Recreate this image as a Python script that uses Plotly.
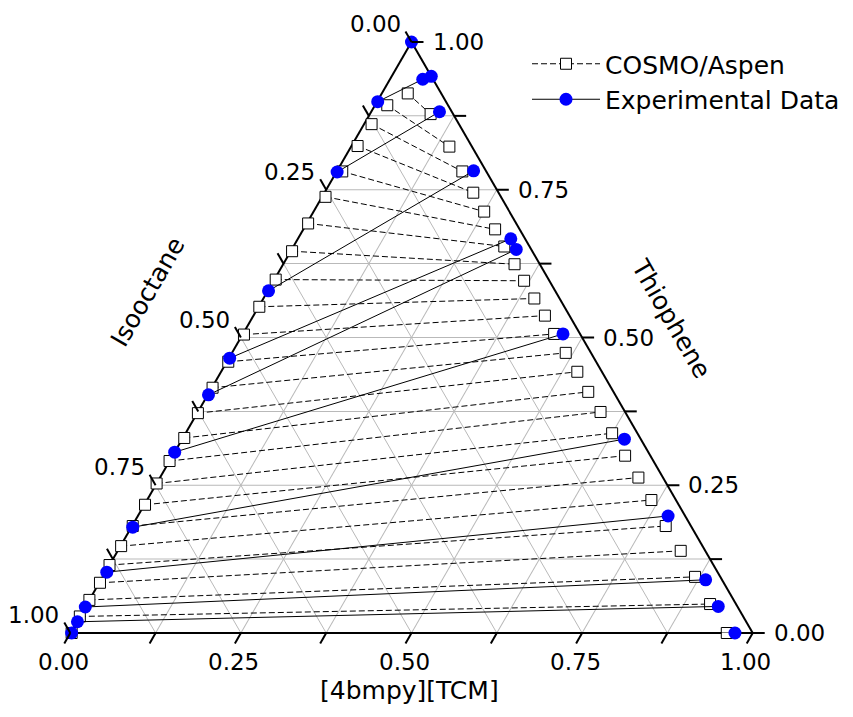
import math
import plotly.graph_objects as go

# ---------------- data (mole fractions) ----------------
# Experimental tie lines: raffinate (isooctane-rich) end
exp_raff_thiophene = [1.000, 0.899, 0.780, 0.579, 0.465, 0.403, 0.306, 0.179, 0.103, 0.044, 0.019, 0.000]
exp_raff_isooctane = [0.000, 0.100, 0.219, 0.420, 0.534, 0.596, 0.694, 0.819, 0.895, 0.956, 0.980, 0.998]
exp_raff_il        = [0.000, 0.001, 0.001, 0.001, 0.001, 0.001, 0.000, 0.002, 0.002, 0.000, 0.001, 0.002]
# Experimental tie lines: extract (IL-rich) end
exp_ext_thiophene = [0.942, 0.937, 0.882, 0.782, 0.667, 0.649, 0.506, 0.328, 0.198, 0.090, 0.045, 0.000]
exp_ext_isooctane = [0.000, 0.015, 0.018, 0.018, 0.021, 0.022, 0.025, 0.024, 0.025, 0.024, 0.028, 0.026]
exp_ext_il        = [0.058, 0.048, 0.100, 0.200, 0.312, 0.329, 0.469, 0.648, 0.777, 0.886, 0.927, 0.974]

# COSMO/Aspen tie lines: raffinate end
cosmo_raff_thiophene = [0.913, 0.893, 0.861, 0.824, 0.781, 0.738, 0.693, 0.646, 0.598, 0.552, 0.505, 0.459, 0.415,
                        0.372, 0.330, 0.291, 0.253, 0.217, 0.181, 0.147, 0.115, 0.085, 0.056, 0.028, 0.000]
cosmo_raff_isooctane = [0.049, 0.089, 0.128, 0.167, 0.211, 0.257, 0.305, 0.352, 0.400, 0.447, 0.493, 0.539, 0.584,
                        0.627, 0.668, 0.709, 0.747, 0.782, 0.818, 0.852, 0.885, 0.914, 0.944, 0.972, 0.998]
cosmo_raff_il        = [0.038, 0.018, 0.011, 0.009, 0.008, 0.005, 0.002, 0.002, 0.002, 0.001, 0.002, 0.002, 0.001,
                        0.001, 0.002, 0.000, 0.000, 0.001, 0.001, 0.001, 0.000, 0.001, 0.000, 0.000, 0.002]
# COSMO/Aspen tie lines: extract end
cosmo_ext_thiophene = [0.878, 0.823, 0.781, 0.745, 0.713, 0.683, 0.654, 0.624, 0.596, 0.566, 0.537, 0.506, 0.474,
                       0.442, 0.408, 0.374, 0.338, 0.300, 0.263, 0.225, 0.181, 0.139, 0.095, 0.049, 0.000]
cosmo_ext_isooctane = [0.033, 0.033, 0.035, 0.037, 0.037, 0.036, 0.037, 0.037, 0.037, 0.037, 0.036, 0.038, 0.037,
                       0.036, 0.037, 0.036, 0.037, 0.037, 0.036, 0.036, 0.037, 0.036, 0.037, 0.038, 0.038]
cosmo_ext_il        = [0.089, 0.144, 0.184, 0.218, 0.250, 0.281, 0.309, 0.339, 0.367, 0.397, 0.427, 0.456, 0.489,
                       0.522, 0.555, 0.590, 0.625, 0.663, 0.701, 0.739, 0.782, 0.825, 0.868, 0.913, 0.962]

grid_vals = [0.0, 0.125, 0.25, 0.375, 0.5, 0.625, 0.75, 0.875, 1.0]
label_vals = [0.0, 0.25, 0.5, 0.75, 1.0]
label_text = ["0.00", "0.25", "0.50", "0.75", "1.00"]

series_names = ["COSMO/Aspen", "Experimental Data"]
title_left = "Isooctane"
title_right = "Thiophene"
title_bottom = "[4bmpy][TCM]"

# ---------------- figure geometry (page has an 8px body margin) ----------------
W, H = 845, 709
ML, MR, MT, MB = 62, 100, 34, 84
PW, PH = W - ML - MR, H - MT - MB
W_OVER_H = 2 / math.sqrt(3)
if PW > W_OVER_H * PH:
    TH = PH
    TW = TH * W_OVER_H
else:
    TW = PW
    TH = TW / W_OVER_H
X0 = ML + PW / 2 - TW / 2
Y0 = MT + PH / 2 - TH / 2
VA = (X0 + TW / 2, Y0)        # top vertex (thiophene)
VB = (X0, Y0 + TH)            # bottom-left (isooctane)
VC = (X0 + TW, Y0 + TH)       # bottom-right (IL)


def px(X):
    return (X - ML) / PW


def py(Y):
    return 1 - (Y - MT) / PH


def lerp(p, q, t):
    return (p[0] + (q[0] - p[0]) * t, p[1] + (q[1] - p[1]) * t)


FONT = "DejaVu Sans, Liberation Sans, Arial, sans-serif"
TICK_FS = 23
TITLE_FS = 25
LEG_FS = 25


def ties(r, e):
    out = []
    for p, q in zip(r, e):
        out += [p, q, None]
    return out


fig = go.Figure()
fig.add_trace(go.Scatterternary(
    a=ties(cosmo_raff_thiophene, cosmo_ext_thiophene),
    b=ties(cosmo_raff_isooctane, cosmo_ext_isooctane),
    c=ties(cosmo_raff_il, cosmo_ext_il),
    mode="lines+markers", name=series_names[0], connectgaps=False, cliponaxis=False,
    line=dict(color="black", width=1, dash="6px,3px"),
    marker=dict(symbol="square", size=11, color="white", line=dict(color="black", width=1)),
))
fig.add_trace(go.Scatterternary(
    a=ties(exp_raff_thiophene, exp_ext_thiophene),
    b=ties(exp_raff_isooctane, exp_ext_isooctane),
    c=ties(exp_raff_il, exp_ext_il),
    mode="lines+markers", name=series_names[1], connectgaps=False, cliponaxis=False,
    line=dict(color="black", width=1),
    marker=dict(symbol="circle", size=13, color="#0000ff", line=dict(width=0)),
))

axis_common = dict(
    tickmode="array", tickvals=grid_vals, ticks="", showticklabels=False,
    showgrid=True, gridcolor="#b9b9b9", gridwidth=1,
    showline=True, linecolor="black", linewidth=2, layer="below traces",
    title=dict(text=""), min=0,
)

# ---------------- ticks & tick labels (Origin-style orientation) ----------------
TL = 12
shapes = []
annotations = []
for v in grid_vals:
    # left edge: isooctane, 0 at top -> 1 at bottom-left, ticks up-left
    p = lerp(VA, VB, v)
    shapes.append(dict(type="line", xref="paper", yref="paper",
                       x0=px(p[0]), y0=py(p[1]), x1=px(p[0] - 0.5 * TL), y1=py(p[1] - 0.866 * TL),
                       line=dict(color="black", width=2)))
    # bottom edge: IL, 0 at left -> 1 at right, ticks down-left
    p = lerp(VB, VC, v)
    shapes.append(dict(type="line", xref="paper", yref="paper",
                       x0=px(p[0]), y0=py(p[1]), x1=px(p[0] - 0.5 * TL), y1=py(p[1] + 0.866 * TL),
                       line=dict(color="black", width=2)))
    # right edge: thiophene, 0 at bottom-right -> 1 at top, ticks to the right
    p = lerp(VC, VA, v)
    shapes.append(dict(type="line", xref="paper", yref="paper",
                       x0=px(p[0]), y0=py(p[1]), x1=px(p[0] + TL), y1=py(p[1]),
                       line=dict(color="black", width=2)))

for v, t in zip(label_vals, label_text):
    p = lerp(VA, VB, v)
    annotations.append(dict(x=px(p[0] - 9), y=py(p[1] - 18), xref="paper", yref="paper", text=t,
                            showarrow=False, xanchor="right", yanchor="middle",
                            font=dict(size=TICK_FS, family=FONT, color="black")))
    p = lerp(VB, VC, v)
    annotations.append(dict(x=px(p[0] - 7), y=py(p[1] + 29), xref="paper", yref="paper", text=t,
                            showarrow=False, xanchor="center", yanchor="middle",
                            font=dict(size=TICK_FS, family=FONT, color="black")))
    p = lerp(VC, VA, v)
    annotations.append(dict(x=px(p[0] + 19), y=py(p[1]), xref="paper", yref="paper", text=t,
                            showarrow=False, xanchor="left", yanchor="middle",
                            font=dict(size=TICK_FS, family=FONT, color="black")))

# axis titles
pl = lerp(VA, VB, 0.5)
annotations.append(dict(x=px(pl[0] - 93), y=py(pl[1] - 46), xref="paper", yref="paper", text=title_left,
                        showarrow=False, textangle=-60, xanchor="center", yanchor="middle",
                        font=dict(size=TITLE_FS, family=FONT, color="black")))
pr = lerp(VC, VA, 0.5)
annotations.append(dict(x=px(pr[0] + 89), y=py(pr[1] - 19), xref="paper", yref="paper", text=title_right,
                        showarrow=False, textangle=60, xanchor="center", yanchor="middle",
                        font=dict(size=TITLE_FS, family=FONT, color="black")))
pb = lerp(VB, VC, 0.5)
annotations.append(dict(x=px(pb[0] - 2), y=py(pb[1] + 57), xref="paper", yref="paper", text=title_bottom,
                        showarrow=False, xanchor="center", yanchor="middle",
                        font=dict(size=TITLE_FS, family=FONT, color="black")))

fig.update_layout(
    width=W, height=H,
    margin=dict(l=ML, r=MR, t=MT, b=MB, autoexpand=False),
    paper_bgcolor="white",
    font=dict(family=FONT, size=TICK_FS, color="black"),
    ternary=dict(sum=1, bgcolor="white", domain=dict(x=[0, 1], y=[0, 1]),
                 aaxis=axis_common, baxis=axis_common, caxis=axis_common),
    shapes=shapes,
    annotations=annotations,
    legend=dict(x=px(519), y=py(33), xanchor="left", yanchor="top",
                bgcolor="rgba(0,0,0,0)", font=dict(size=LEG_FS, family=FONT),
                itemwidth=68, tracegroupgap=0),
    showlegend=True,
)

fig.write_html("out.html")
